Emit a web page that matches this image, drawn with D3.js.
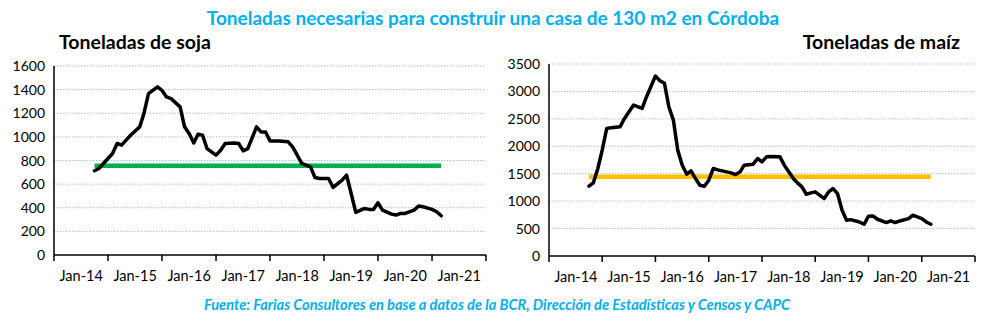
<!DOCTYPE html>
<html lang="es">
<head>
<meta charset="utf-8" />
<title>Toneladas necesarias para construir una casa</title>
<script src="https://d3js.org/d3.v7.min.js"></script>
<style>
  html, body { margin:0; padding:0; background:#ffffff; overflow:hidden; }
  svg { display:block; font-family: Lato, "Open Sans", sans-serif; }
</style>
</head>
<body>
<svg id="svg" width="991" height="328"></svg>
<script>
// soja: meses (yyyy-mm) y toneladas
const sojaFechas = ["2014-04","2014-05","2014-07","2014-08","2014-09","2014-10","2014-11","2014-12",
  "2015-02","2015-03","2015-04","2015-06","2015-07","2015-08","2015-09","2015-11","2015-12",
  "2016-01","2016-02","2016-03","2016-04","2016-05","2016-07","2016-08","2016-09","2016-11","2016-12",
  "2017-01","2017-02","2017-04","2017-05","2017-06","2017-07","2017-09","2017-11","2017-12",
  "2018-02","2018-04","2018-05","2018-06","2018-08","2018-09","2018-11","2018-12",
  "2019-01","2019-02","2019-04","2019-05","2019-06","2019-07","2019-08","2019-10","2019-11","2019-12",
  "2020-01","2020-03","2020-04","2020-05","2020-07","2020-08","2020-09"];
const sojaValores = [713,732,817,859,944,930,972,1014,
  1085,1197,1366,1423,1394,1338,1324,1254,1085,
  1028,949,1023,1014,901,845,887,944,949,944,
  882,901,1085,1042,1042,966,966,958,915,
  775,746,656,648,648,572,634,676,
  521,361,394,386,386,442,380,346,338,352,
  352,380,414,408,386,366,332];
const sojaPromedio = 755;

// maíz
const maizFechas = ["2014-04","2014-05","2014-06","2014-07","2014-08","2014-09","2014-11","2014-12",
  "2015-01","2015-02","2015-04","2015-05","2015-07","2015-08","2015-09","2015-10","2015-11","2015-12",
  "2016-01","2016-02","2016-03","2016-04","2016-05","2016-06","2016-07","2016-08","2016-09","2016-11","2016-12",
  "2017-01","2017-02","2017-03","2017-05","2017-06","2017-07","2017-08","2017-09","2017-11","2017-12",
  "2018-02","2018-03","2018-04","2018-05","2018-06","2018-07","2018-09","2018-10","2018-11","2018-12",
  "2019-01","2019-02","2019-03","2019-05","2019-06","2019-07","2019-08","2019-09","2019-11","2019-12",
  "2020-01","2020-02","2020-04","2020-05","2020-06","2020-07","2020-08","2020-09"];
const maizValores = [1272,1333,1595,1930,2325,2340,2356,2508,
  2630,2751,2690,2904,3281,3196,3147,2721,2477,1930,
  1656,1491,1552,1412,1290,1272,1382,1595,1570,1534,1516,
  1485,1534,1656,1674,1777,1717,1808,1815,1808,1656,
  1412,1333,1260,1126,1150,1169,1047,1169,1230,1138,
  834,651,663,621,578,724,730,670,609,639,
  609,639,682,743,712,682,621,578];
const maizPromedio = 1443;

const anios = [2014,2015,2016,2017,2018,2019,2020,2021];

const parse = d3.timeParse("%Y-%m");
const fmt = d3.timeFormat("Jan-%y");
const svg = d3.select("#svg");

svg.append("text")
  .attr("x", 493).attr("y", 25)
  .attr("text-anchor", "middle")
  .attr("fill", "#00B0F0")
  .style("font-weight", "bold").style("font-size", "19px")
  .text("Toneladas necesarias para construir una casa de 130 m2 en Córdoba");

svg.append("text")
  .attr("x", 497).attr("y", 310)
  .attr("text-anchor", "middle")
  .attr("fill", "#00B0F0")
  .style("font-weight", "bold").style("font-style", "italic").style("font-size", "14.6px")
  .text("Fuente: Farias Consultores en base a datos de la BCR, Dirección de Estadísticas y Censos y CAPC");

function panel(opt) {
  const g = svg.append("g");
  // years: label at January, tick marks at mid-year boundaries
  const x = d3.scaleTime()
    .domain([new Date(2013, 6, 1), new Date(2021, 6, 1)])
    .range([opt.x0, opt.x1]);
  const y = d3.scaleLinear().domain([0, opt.max]).range([opt.y0, opt.y1]);

  // gridlines
  g.selectAll(".grid").data(y.ticks(opt.max / opt.step).filter(d => d > 0))
    .join("line")
    .attr("x1", opt.x0).attr("x2", opt.x1)
    .attr("y1", d => y(d)).attr("y2", d => y(d))
    .attr("stroke", "#9DC3E6").attr("stroke-width", 1)
    .attr("stroke-dasharray", "1.5,1.5");

  // y labels
  g.selectAll(".ylab").data(d3.range(0, opt.max + 1, opt.step))
    .join("text")
    .attr("x", opt.x0 - 9).attr("y", d => y(d) + 5)
    .attr("text-anchor", "end")
    .style("font-size", "14px").attr("fill", "#000")
    .text(d => d);

  g.append("line")
    .attr("x1", opt.x0).attr("x2", opt.x0)
    .attr("y1", opt.y1).attr("y2", opt.y0)
    .attr("stroke", "#000").attr("stroke-width", 1.5);

  const bordes = d3.range(2013, 2022).map(a => new Date(a, 6, 1));
  g.append("line")
    .attr("x1", opt.x0).attr("x2", opt.x1)
    .attr("y1", opt.y0).attr("y2", opt.y0)
    .attr("stroke", "#000").attr("stroke-width", 1.5);
  g.selectAll(".tick").data(bordes).join("line")
    .attr("x1", d => x(d)).attr("x2", d => x(d))
    .attr("y1", opt.y0).attr("y2", opt.y0 + 6)
    .attr("stroke", "#000").attr("stroke-width", 1.5);

  g.selectAll(".xlab").data(anios.map(a => new Date(a, 0, 1))).join("text")
    .attr("x", d => x(d)).attr("y", opt.y0 + 26)
    .attr("text-anchor", "middle")
    .style("font-size", "14.5px").attr("fill", "#000")
    .text(d => fmt(d));

  const serie = opt.fechas.map((f, i) => ({ d: parse(f), v: opt.valores[i] }));
  const ini = serie[0].d, fin = serie[serie.length - 1].d;

  g.append("line")
    .attr("x1", x(ini)).attr("x2", x(fin))
    .attr("y1", y(opt.promedio)).attr("y2", y(opt.promedio))
    .attr("stroke", opt.color).attr("stroke-width", 4.5);

  g.append("path")
    .datum(serie)
    .attr("fill", "none")
    .attr("stroke", "#000")
    .attr("stroke-width", 3.5)
    .attr("stroke-linejoin", "round")
    .attr("stroke-linecap", "round")
    .attr("d", d3.line().x(d => x(d.d)).y(d => y(d.v)));

  svg.append("text")
    .attr("x", opt.tx).attr("y", 49)
    .attr("text-anchor", opt.anchor)
    .style("font-weight", "bold").style("font-size", "19.5px")
    .text(opt.titulo);
}

panel({ x0: 54, x1: 486, y0: 255, y1: 66, max: 1600, step: 200,
  fechas: sojaFechas, valores: sojaValores, promedio: sojaPromedio,
  color: "#00B050", titulo: "Toneladas de soja", tx: 59, anchor: "start" });

panel({ x0: 549, x1: 975, y0: 256, y1: 64, max: 3500, step: 500,
  fechas: maizFechas, valores: maizValores, promedio: maizPromedio,
  color: "#FFC000", titulo: "Toneladas de maíz", tx: 960, anchor: "end" });
</script>
</body>
</html>
